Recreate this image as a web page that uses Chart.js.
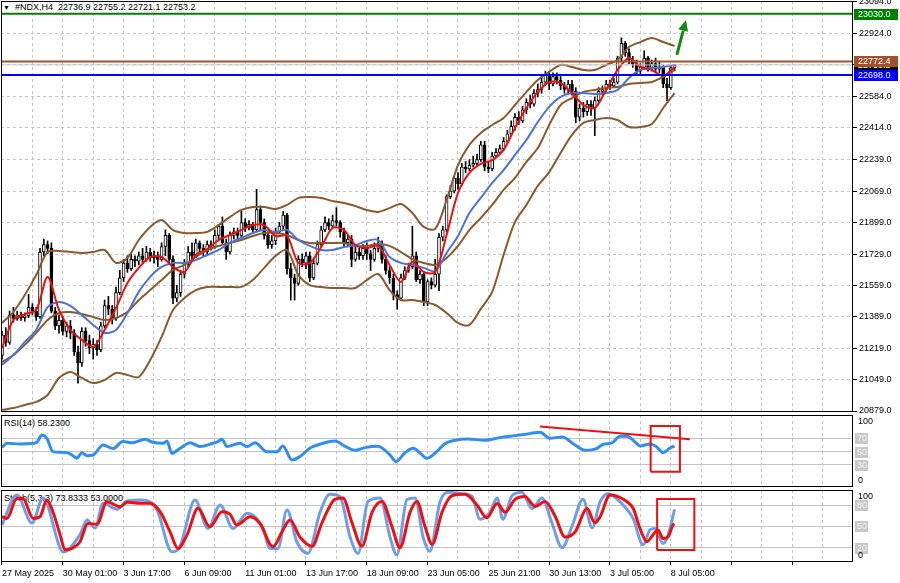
<!DOCTYPE html>
<html><head><meta charset="utf-8">
<script src="https://cdn.jsdelivr.net/npm/chart.js@4.4.1/dist/chart.umd.min.js"></script>
<style>
html,body{margin:0;padding:0;background:#fff;}
#wrap{position:relative;width:900px;height:583px;overflow:hidden;font-family:"Liberation Sans",Arial,sans-serif;background:#fff;}
canvas{position:absolute;left:0;z-index:2;}
.lbl{position:absolute;z-index:1;font-size:9px;color:#000;white-space:pre;line-height:11px;}
</style></head><body>
<div id="wrap">
<div class="lbl" style="left:3px;top:2px"><span style="font-size:7px">▼</span>  #NDX,H4  22736.9 22755.2 22721.1 22753.2</div>
<div class="lbl" style="left:4px;top:418px">RSI(14) 58.2300</div>
<div class="lbl" style="left:4px;top:493px">Stoch(5,3,3) 73.8333 53.0000</div>
<canvas id="cMain" width="900" height="414" style="top:0"></canvas>
<canvas id="cRsi" width="900" height="75" style="top:414px"></canvas>
<canvas id="cSto" width="900" height="94" style="top:489px"></canvas>
</div>
<script>
// ---------------- DATA ----------------
const barOpen = [21180,21290,21250,21400,21380,21400,21385,21395,21440,21420,
21390,21740,21780,21760,21420,21340,21370,21310,21340,21300,
21200,21140,21310,21260,21220,21240,21210,21340,21450,21430,
21380,21520,21600,21680,21650,21700,21690,21720,21700,21740,
21710,21720,21700,21770,21830,21700,21490,21520,21620,21680,
21740,21720,21790,21760,21740,21780,21770,21830,21880,21790,
21740,21830,21850,21830,21900,21870,21890,21860,21970,21900,
21830,21780,21800,21850,21880,21940,21650,21600,21570,21700,
21680,21720,21600,21680,21780,21860,21900,21880,21910,21900,
21850,21790,21810,21700,21740,21720,21760,21730,21700,21760,
21780,21700,21640,21600,21510,21490,21600,21640,21660,21720,
21590,21620,21470,21580,21560,21620,21820,21860,22040,22070,
22140,22110,22200,22190,22210,22220,22240,22320,22200,22190,
22260,22280,22300,22340,22380,22420,22470,22450,22510,22550,
22540,22600,22620,22660,22700,22650,22690,22670,22640,22620,
22650,22610,22470,22520,22500,22540,22520,22560,22610,22620,
22650,22640,22660,22790,22870,22820,22780,22760,22720,22740,
22790,22740,22760,22730,22740,22650,22630,22736.9];
const barHigh = [21310,21330,21420,21440,21420,21415,21410,21510,21460,21440,
21760,21810,21800,21790,21440,21400,21390,21360,21370,21320,
21230,21330,21330,21290,21270,21260,21360,21480,21500,21450,
21550,21640,21700,21720,21730,21720,21740,21760,21770,21760,
21745,21740,21790,21860,21840,21720,21560,21640,21700,21770,
21790,21810,21800,21780,21800,21800,21860,21890,21930,21810,
21850,21870,21870,21960,21920,21910,21900,22080,21990,21920,
21850,21830,21870,21900,21960,21950,21680,21620,21720,21730,
21740,21740,21700,21800,21880,21930,21920,21940,21980,21910,
21870,21830,21830,21780,21760,21780,21790,21750,21790,21820,
21800,21720,21660,21620,21530,21620,21660,21680,21880,21740,
21640,21630,21590,21600,21700,21840,21880,22050,22100,22150,
22170,22220,22230,22240,22260,22270,22340,22340,22230,22280,
22300,22320,22360,22400,22450,22490,22500,22530,22570,22590,
22620,22650,22690,22720,22720,22710,22710,22690,22660,22670,
22670,22630,22540,22550,22560,22560,22580,22630,22640,22670,
22670,22680,22800,22900,22880,22840,22800,22780,22760,22830,
22800,22780,22790,22770,22750,22680,22745,22755.2];
const barLow = [21160,21230,21240,21360,21370,21370,21365,21385,21400,21370,
21380,21720,21730,21410,21320,21300,21290,21280,21270,21180,
21030,21120,21230,21190,21160,21180,21200,21330,21400,21350,
21370,21510,21580,21630,21640,21660,21670,21680,21690,21690,
21680,21660,21690,21720,21680,21460,21470,21500,21600,21660,
21700,21710,21740,21720,21730,21750,21760,21800,21780,21700,
21730,21810,21800,21820,21850,21860,21840,21850,21860,21810,
21760,21760,21780,21840,21860,21620,21480,21480,21560,21660,
21650,21580,21590,21670,21770,21850,21860,21870,21880,21820,
21770,21770,21660,21690,21700,21700,21700,21640,21690,21740,
21680,21620,21570,21480,21430,21480,21590,21630,21650,21580,
21570,21450,21450,21540,21550,21530,21800,21850,22030,22060,
22080,22100,22170,22180,22200,22210,22230,22180,22170,22180,
22250,22270,22290,22330,22370,22400,22430,22440,22490,22520,
22530,22580,22600,22640,22620,22640,22650,22620,22600,22600,
22590,22440,22450,22470,22480,22480,22370,22550,22590,22610,
22620,22630,22650,22770,22800,22760,22740,22700,22700,22730,
22720,22720,22710,22710,22630,22560,22620,22721.1];
const barClose = [21290,21250,21400,21380,21400,21385,21395,21440,21420,21390,
21740,21780,21760,21420,21340,21370,21310,21340,21300,21200,
21140,21310,21260,21220,21240,21210,21340,21450,21430,21380,
21520,21600,21680,21650,21700,21690,21720,21700,21740,21710,
21720,21700,21770,21830,21700,21490,21520,21620,21680,21740,
21720,21790,21760,21740,21780,21770,21830,21880,21790,21740,
21830,21850,21830,21900,21870,21890,21860,21970,21900,21830,
21780,21800,21850,21880,21940,21650,21600,21570,21700,21680,
21720,21600,21680,21780,21860,21900,21880,21910,21900,21850,
21790,21810,21700,21740,21720,21760,21730,21700,21760,21780,
21700,21640,21600,21510,21490,21600,21640,21660,21720,21590,
21620,21470,21580,21560,21620,21820,21860,22040,22070,22140,
22110,22200,22190,22210,22220,22240,22320,22200,22190,22260,
22280,22300,22340,22380,22420,22470,22450,22510,22550,22540,
22600,22620,22660,22700,22650,22690,22670,22640,22620,22650,
22610,22470,22520,22500,22540,22520,22560,22610,22620,22650,
22640,22660,22790,22870,22820,22780,22760,22720,22740,22790,
22740,22760,22730,22740,22650,22630,22737,22753.2];

// indicator lines, one value every STEP bars
const STEP = 3;
const maFast = [21220,21372,21404,21426,21605,21426,21318,21264,21226,21318,21437,21572,21654,21713,21713,21659,21632,21724,21756,21805,21832,21859,21886,21886,21827,21827,21681,21681,21767,21870,21859,21778,21762,21773,21670,21578,21686,21632,21632,21832,22060,22168,22217,22238,22293,22412,22520,22607,22661,22655,22601,22536,22520,22618,22726,22791,22742,22726,22693,22742];
const maSlow = [21128,21182,21253,21318,21442,21469,21448,21399,21345,21302,21318,21410,21524,21605,21659,21681,21681,21697,21724,21751,21789,21816,21843,21859,21849,21859,21805,21773,21751,21751,21767,21778,21800,21805,21713,21681,21670,21654,21637,21735,21827,21951,22033,22114,22184,22266,22347,22444,22526,22580,22601,22601,22596,22601,22618,22683,22726,22737,22742,22753];
const bbUpper = [21356,21415,21507,21616,21740,21746,21740,21735,21740,21751,21681,21708,21805,21876,21913,21859,21843,21843,21849,21886,21930,21968,21984,21984,21973,21995,22033,22038,22033,22016,22006,21989,21968,21957,21978,22000,21951,21876,21865,22022,22211,22320,22385,22428,22466,22536,22607,22672,22715,22753,22742,22726,22726,22753,22780,22850,22877,22899,22877,22856];
const bbMiddle = [21144,21182,21237,21302,21372,21410,21415,21404,21388,21372,21383,21415,21480,21534,21588,21643,21670,21713,21751,21773,21789,21805,21827,21843,21843,21832,21805,21789,21789,21789,21789,21773,21773,21784,21773,21740,21702,21681,21670,21708,21773,21859,21924,21995,22076,22141,22228,22303,22428,22536,22574,22607,22618,22628,22634,22650,22655,22661,22688,22726];
const bbLower = [20884,20895,20912,20928,20966,21058,21090,21058,21031,21047,21085,21074,21063,21155,21280,21426,21491,21534,21551,21551,21551,21551,21588,21654,21719,21751,21616,21561,21551,21545,21545,21545,21588,21621,21534,21480,21480,21469,21453,21410,21356,21345,21432,21524,21724,21903,21995,22098,22173,22276,22374,22439,22455,22466,22455,22417,22417,22433,22520,22601];

// [bar, value]
const rsiPoints = [[0,56.5],[1.3,62.5],[4.7,61.5],[8.2,62.5],[9.2,64],[10.5,75],[11.8,70],[13.4,50],[15.3,49],[17.1,48.5],[18.4,45],[19.7,40],[21,48.5],[22.4,44],[24,45],[26.6,60],[29.2,54.6],[31.8,65],[34.5,63.4],[37.6,68.5],[39.7,64],[42.4,62.5],[43.4,66],[44.7,47.5],[46.8,54.6],[49.5,63.4],[52.1,57.6],[55.5,62.5],[56.8,65],[57.9,68.5],[59.2,57.6],[62.6,62.5],[64.5,57.6],[66.6,63.4],[69.7,50],[72.4,50],[73.9,58.5],[76.3,37.5],[78.4,42.5],[81,55],[84.2,62],[87.6,66],[90.3,58],[92.9,52],[95.5,56],[98.9,58],[102.1,45],[103.7,35],[106,48],[108.2,55],[110,48],[111.8,40],[114,48],[116.6,62],[119.2,67],[122.6,69],[127,67],[131,71],[135,74],[138.9,77],[141.6,79],[144.2,70],[147.4,72],[150.8,60],[153.4,52],[156.3,54],[158.2,61],[160.5,63],[162.6,73],[164.5,73],[166.3,66],[167.9,58.5],[170.5,61.5],[172.1,58],[174,48.5],[175.8,55.5],[177,58.23]];
const stochMain = [[0,52],[3.9,94],[7.9,54.6],[10.8,90],[15.3,19.5],[16.1,14],[20.5,38],[22.4,59],[24.5,47.6],[26.6,82.4],[30.3,74],[32.9,85.6],[37.1,87],[40.8,73],[44.7,14.3],[46.8,21.4],[50.8,87],[54.2,47],[57.4,80],[60.8,47],[64.5,68.3],[68.7,47],[70.5,19],[72.6,19],[75,73],[77.6,28],[80.5,12],[83.7,70],[86.3,95],[88.9,92],[91.6,35],[93.7,12],[96.3,85],[99.5,90],[102.1,35],[103.9,10],[106.6,88],[108.7,90],[110.8,35],[112.6,15],[115.3,85],[117.9,98],[121,96],[123.7,92],[125.8,60],[128.4,70],[130.3,90],[131.8,60],[134.2,93],[136.8,98],[139.5,75],[142.1,90],[144.7,55],[147.4,20],[150,50],[152.9,88],[155.3,48],[157.4,84.6],[159.5,96],[162.6,84.6],[166.1,61],[168.7,24],[170.5,45],[171.8,47],[174,26],[175.3,38],[177,73.83]];
const stochSignal = [[0,63.5],[1.3,61],[3.9,89],[5.5,89],[8.2,61],[10,63.5],[11.8,87],[13.4,70.6],[15.3,38],[16.6,17],[18.4,19],[20.5,28],[22.6,54],[25,53],[27.6,84.6],[31.1,77.6],[32.9,83.8],[36.3,82.4],[38.9,82.4],[41.6,70.6],[44.2,42.5],[46.3,19],[48.7,38],[51.6,75.4],[54.7,49.5],[57.9,70.6],[60,67],[61.8,52],[65.3,63.5],[67.9,54],[71.3,21.4],[73.7,42.5],[75.8,59],[78.4,35],[81.6,22],[84.2,55],[87.6,88],[89.7,90],[92.1,55],[94.7,22],[97.4,70],[100,85],[102.6,50],[104.7,20],[107.4,70],[109.2,85],[111.3,50],[113.2,25],[115.8,70],[118.4,93],[121.8,95],[125,80],[127.6,62],[130.3,82],[132.4,70],[135,88],[137.6,92],[140.3,78],[142.9,85],[145.5,65],[148.2,35],[150.8,42],[154,75],[156,55],[157.4,63.5],[160,94],[161.8,92.6],[164.5,84.6],[166.1,75.4],[167.9,47],[169.7,28.4],[171.3,38],[172.6,45],[174,33],[175.3,35.4],[176.6,52],[177,53]];

const priceLevels = [23030.0, 22772.4, 22753.2, 22698.0];
const priceTicks = [20879,21049,21219,21389,21559,21729,21899,22069,22239,22414,22584,22754,22924,23094];
const rsiLevels = [30, 50, 70];
const stochLevels = [20, 50, 80];
const xTickLabels = ["27 May 2025","30 May 01:00","3 Jun 17:00","6 Jun 09:00","11 Jun 01:00","13 Jun 17:00","18 Jun 09:00","23 Jun 05:00","25 Jun 21:00","30 Jun 13:00","3 Jul 05:00","8 Jul 05:00"];
// annotations [bar, value]
const arrowFrom = [177.6, 22807];
const arrowTo = [180.0, 22997];
const rsiTrend = [[141.6, 87.5], [181, 68.5]];
const rsiBoxBars = [170.7, 178.4], rsiBoxVals = [20, 88.4];
const stochBoxBars = [172.4, 182.2], stochBoxVals = [16.8, 88.4];

// ---------------- LAYOUT / STYLE ----------------
const FONT = 'Liberation Sans';
Chart.defaults.font.family = FONT;
Chart.defaults.font.size = 9;
Chart.defaults.color = '#000';
const XMIN = -0.263, XMAX = 223.95;
const LABEL_EVERY = 16, GRID_EVERY = 8;
const gridBars = [];
for (let v = 0; v <= 216; v += GRID_EVERY) gridBars.push(v);
const GRID_COLOR = '#c4c4c4';

function xScale(showLabels) {
  return {
    type: 'linear', min: XMIN, max: XMAX, offset: false,
    afterBuildTicks: s => { s.ticks = gridBars.map(v => ({ value: v })); },
    grid: { color: GRID_COLOR, offset: false, drawTicks: showLabels, tickLength: 3,
            tickColor: c => (c.tick && c.tick.value % LABEL_EVERY === 0) ? '#000' : 'rgba(0,0,0,0)' },
    border: { display: false, dash: [3, 3] },
    ticks: { display: showLabels, autoSkip: false, maxRotation: 0, minRotation: 0, align: 'start', padding: 3,
             font: { family: FONT, size: 9 }, color: '#000',
             callback: v => (v % LABEL_EVERY === 0 && v / LABEL_EVERY < xTickLabels.length) ? xTickLabels[v / LABEL_EVERY] : '' },
    afterFit: s => { s.height = showLabels ? 21 : 0; s.paddingLeft = 0; s.paddingRight = 0; }
  };
}
function lineDs(points, color, width, order, extra) {
  return Object.assign({ type: 'line', data: points, borderColor: color, backgroundColor: color,
    borderWidth: width, pointRadius: 0, fill: false, tension: 0.3, order: order }, extra || {});
}
const sampled = arr => arr.map((v, k) => ({ x: k * STEP, y: v }));
const pairs = arr => arr.map(p => ({ x: p[0], y: p[1] }));
const hline = v => [{ x: XMIN, y: v }, { x: XMAX, y: v }];
const boxPts = (bx, by) => [{x:bx[0],y:by[0]},{x:bx[1],y:by[0]},{x:bx[1],y:by[1]},{x:bx[0],y:by[1]},{x:bx[0],y:by[0]}];

const framePlugin = {
  id: 'frame',
  afterDraw(chart) {
    const { ctx, chartArea: a } = chart;
    ctx.save(); ctx.strokeStyle = '#000'; ctx.lineWidth = 1; ctx.setLineDash([]);
    ctx.strokeRect(Math.round(a.left) + 0.5, Math.round(a.top) + 0.5, Math.round(a.right - a.left) - 1, Math.round(a.bottom - a.top) - 1);
    ctx.restore();
  }
};

// ---------------- MAIN CHART ----------------
const levelColors = ['#008000', '#a0522d', '#000000', '#0000ff'];
const levelLineColors = ['#008000', '#a0522d', '#c8c8c8', '#0000ff'];
const levelWidths = [2, 2, 1, 2];
const tagOrder = [2, 0, 1, 3];

const mainPlugin = {
  id: 'mainExtras',
  afterDatasetsDraw(chart) {
    const { ctx } = chart; const xs = chart.scales.x, ys = chart.scales.y;
    const x0 = xs.getPixelForValue(arrowFrom[0]), y0 = ys.getPixelForValue(arrowFrom[1]);
    const x1 = xs.getPixelForValue(arrowTo[0]), y1 = ys.getPixelForValue(arrowTo[1]);
    const ang = Math.atan2(y1 - y0, x1 - x0), L = 11, W = 5;
    const bx = x1 - L * Math.cos(ang), by = y1 - L * Math.sin(ang);
    ctx.save();
    ctx.strokeStyle = '#108a10'; ctx.fillStyle = '#108a10'; ctx.lineWidth = 3;
    ctx.beginPath(); ctx.moveTo(x0, y0); ctx.lineTo(bx, by); ctx.stroke();
    ctx.beginPath(); ctx.moveTo(x1, y1);
    ctx.lineTo(bx + W * Math.sin(ang), by - W * Math.cos(ang));
    ctx.lineTo(bx - W * Math.sin(ang), by + W * Math.cos(ang));
    ctx.closePath(); ctx.fill();
    ctx.restore();
  },
  afterDraw(chart) {
    const { ctx, chartArea: a } = chart; const ys = chart.scales.y;
    ctx.save(); ctx.font = '9px "' + FONT + '"'; ctx.textBaseline = 'middle';
    for (const i of tagOrder) {
      const py = Math.round(ys.getPixelForValue(priceLevels[i]));
      ctx.fillStyle = levelColors[i]; ctx.fillRect(a.right + 1, py - 5, 44, 11);
      ctx.fillStyle = '#fff'; ctx.fillText(priceLevels[i].toFixed(1), a.right + 5, py + 0.5);
    }
    ctx.restore();
  }
};

const mainDatasets = [
  lineDs(sampled(bbUpper), '#8b5a2b', 2, 3),
  lineDs(sampled(bbMiddle), '#8b5a2b', 2, 3),
  lineDs(sampled(bbLower), '#8b5a2b', 2, 3),
  lineDs(sampled(maSlow), '#4a72d8', 2, 2),
  lineDs(sampled(maFast), '#ee1010', 2, 1),
  { type: 'bar', data: barHigh.map((h, i) => ({ x: i, y: [barLow[i], h] })), backgroundColor: '#000',
    barThickness: 1, grouped: false, order: 10, borderWidth: 0 },
  { type: 'bar', data: barOpen.map((o, i) => ({ x: i, y: [o, barClose[i]] })),
    backgroundColor: c => (barClose[c.dataIndex] >= barOpen[c.dataIndex] ? '#ffffff' : '#000000'),
    borderColor: '#000', borderWidth: 1, borderSkipped: false, barThickness: 3, grouped: false, order: 9, minBarLength: 1 }
];
priceLevels.forEach((v, i) => mainDatasets.push(lineDs(hline(v), levelLineColors[i], levelWidths[i], 0, { tension: 0 })));

new Chart(document.getElementById('cMain'), {
  type: 'line',
  data: { datasets: mainDatasets },
  options: {
    responsive: false, animation: false, devicePixelRatio: 1, events: [],
    layout: { padding: { left: 1, top: 1, right: 0, bottom: 2 } },
    plugins: { legend: { display: false }, tooltip: { enabled: false } },
    scales: {
      x: xScale(false),
      y: { type: 'linear', position: 'right', min: 20873.6, max: 23099.4,
           afterBuildTicks: s => { s.ticks = priceTicks.map(v => ({ value: v })); },
           grid: { color: GRID_COLOR, drawTicks: true, tickLength: 4, tickColor: '#000' },
           border: { display: false, dash: [3, 3] },
           ticks: { autoSkip: false, padding: 2, color: '#000', font: { family: FONT, size: 9 }, callback: v => v.toFixed(1) },
           afterFit: s => { s.width = 47; s.paddingTop = 0; s.paddingBottom = 0; } }
    }
  },
  plugins: [mainPlugin, framePlugin]
});

// ---------------- SUB WINDOWS ----------------
function subLabels(levels, topText, bottomText) {
  return {
    id: 'subLabels',
    afterDraw(chart) {
      const { ctx, chartArea: a } = chart; const ys = chart.scales.y;
      ctx.save(); ctx.font = '9px "' + FONT + '"'; ctx.textBaseline = 'middle';
      for (const v of levels) {
        const py = Math.round(ys.getPixelForValue(v));
        ctx.fillStyle = '#c8c8c8'; ctx.fillRect(a.right + 2, py - 5, 13, 11);
        ctx.fillStyle = '#f4f4f4'; ctx.fillText(String(v), a.right + 4, py + 0.5);
      }
      ctx.fillStyle = '#000';
      ctx.fillText(topText, a.right + 5, a.top + 6.5);
      ctx.fillText(bottomText, a.right + 5, a.bottom - 6);
      ctx.restore();
    }
  };
}
function subY(min, max, levels) {
  return { type: 'linear', position: 'right', min: min, max: max,
    afterBuildTicks: s => { s.ticks = levels.map(v => ({ value: v })); },
    grid: { color: '#c4c4c4', drawTicks: false },
    border: { display: false },
    ticks: { display: false },
    afterFit: s => { s.width = 47; s.paddingTop = 0; s.paddingBottom = 0; } };
}

new Chart(document.getElementById('cRsi'), {
  type: 'line',
  data: { datasets: [
    lineDs(pairs(rsiPoints), '#2f8ff0', 3, 2, { cubicInterpolationMode: 'monotone' }),
    lineDs(pairs(rsiTrend), '#ee1010', 2, 1, { tension: 0 }),
    lineDs(boxPts(rsiBoxBars, rsiBoxVals), '#ee1010', 2, 0, { tension: 0 })
  ] },
  options: {
    responsive: false, animation: false, devicePixelRatio: 1, events: [],
    layout: { padding: { left: 1, top: 1, right: 0, bottom: 2 } },
    plugins: { legend: { display: false }, tooltip: { enabled: false } },
    scales: { x: xScale(false), y: subY(-3, 104.9, rsiLevels) }
  },
  plugins: [subLabels(rsiLevels, '100', '0'), framePlugin]
});

new Chart(document.getElementById('cSto'), {
  type: 'line',
  data: { datasets: [
    lineDs(pairs(stochMain), '#6f9ee8', 3, 2, { cubicInterpolationMode: 'monotone' }),
    lineDs(pairs(stochSignal), '#ee1010', 3, 1, { cubicInterpolationMode: 'monotone' }),
    lineDs(boxPts(stochBoxBars, stochBoxVals), '#ee1010', 2, 0, { tension: 0 })
  ] },
  options: {
    responsive: false, animation: false, devicePixelRatio: 1, events: [],
    layout: { padding: { left: 1, top: 1, right: 0, bottom: 0 } },
    plugins: { legend: { display: false }, tooltip: { enabled: false } },
    scales: { x: xScale(true), y: subY(-0.1, 101.1, stochLevels) }
  },
  plugins: [subLabels(stochLevels, '100', '0'), framePlugin]
});
</script>
</body></html>
